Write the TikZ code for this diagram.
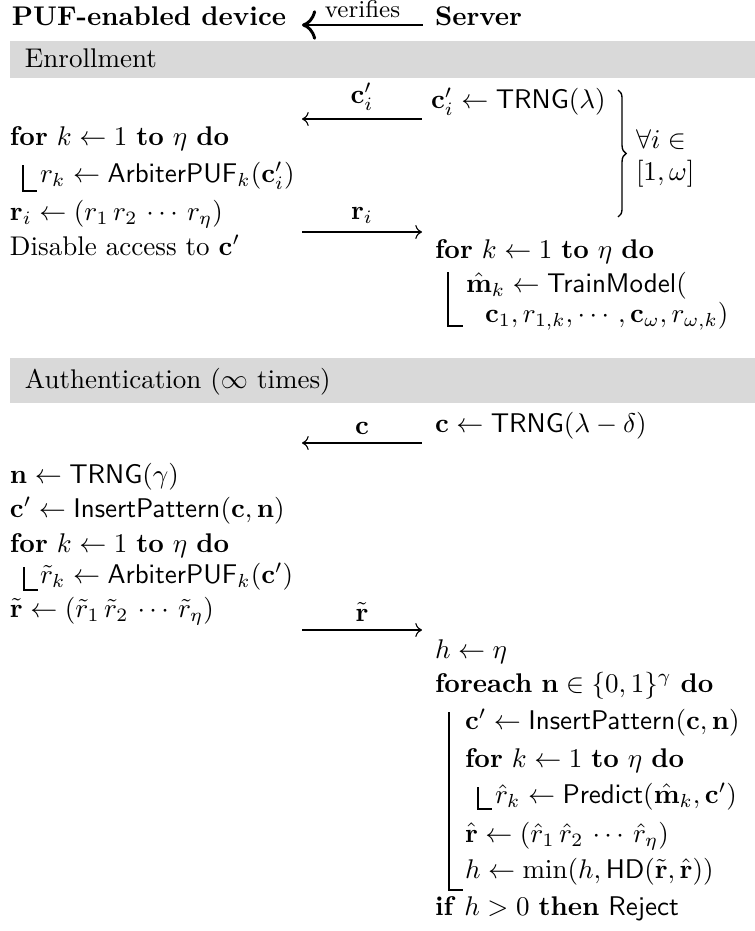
\documentclass[tikz,border=0pt]{standalone}
\usepackage{amsmath,amssymb}
\usetikzlibrary{arrows.meta,decorations.pathreplacing}

\newcommand{\kw}[1]{\textbf{#1}}
\newcommand{\vb}[1]{\mathbf{#1}}

\begin{document}
\begin{tikzpicture}[
  x=0.37pt, y=-0.37pt,
  txt/.style={anchor=base west, inner sep=0pt, outer sep=0pt},
  bar/.style={fill=black!15, draw=none},
  msg/.style={line width=0.4pt},
  lbl/.style={above, inner sep=3pt},
  loopline/.style={line width=0.4pt},
  brace/.style={decorate, decoration={brace, amplitude=3pt}, line width=0.5pt}
]
  \useasboundingbox (0,0) rectangle (755,931);

  % header
  \node[txt] (dev) at (12,25) {\kw{PUF-enabled device}};
  \node[txt] (srv) at (435,25) {\kw{Server}};
  \coordinate (hL) at (302,25);
  \coordinate (hR) at (423,25);
  \draw[{To[scale=1.3]}-, line width=1.1pt] (hL) -- node[above, inner sep=2pt, font=\small] (verif) {verifies} (hR);

  % enrollment
  \fill[bar] (10,41) rectangle (755,78);
  \node[txt] (enr) at (25,67) {Enrollment};

  \node[txt] (trng1) at (431,108) {$\vb{c}'_i \leftarrow \mathsf{TRNG}(\lambda)$};
  \coordinate (m1L) at (302,119);
  \coordinate (m1R) at (422,119);
  \draw[msg, <-] (m1L) -- node[lbl] (m1) {$\vb{c}'_i$} (m1R);

  \node[txt] (for1) at (10,145) {\kw{for} $k \leftarrow 1$ \kw{to} $\eta$ \kw{do}};
  \node[txt] (puf1) at (40,182) {$r_k \leftarrow \mathsf{ArbiterPUF}_k(\vb{c}'_i)$};
  \draw[loopline] (23,165) -- (23,191) -- (37,191);
  \node[txt] (resp1) at (10,220) {$\vb{r}_i \leftarrow (r_1\,r_2\,\cdots\,r_\eta)$};
  \coordinate (m2L) at (302,232);
  \coordinate (m2R) at (422,232);
  \draw[msg, ->] (m2L) -- node[lbl] (m2) {$\vb{r}_i$} (m2R);
  \node[txt] (dis) at (10,255) {Disable access to $\vb{c}'$};

  \draw[brace] (618,90) -- (618,217);
  \node[txt] (all1) at (636,148) {$\forall i \in$};
  \node[txt] (all2) at (636,180) {$[1,\omega]$};

  \node[txt] (for2) at (435,258) {\kw{for} $k \leftarrow 1$ \kw{to} $\eta$ \kw{do}};
  \node[txt] (train) at (466,292) {$\hat{\vb{m}}_k \leftarrow \mathsf{TrainModel}($};
  \node[txt] (args) at (485,322) {$\vb{c}_1, r_{1,k}, \cdots, \vb{c}_\omega, r_{\omega,k})$};
  \draw[loopline] (448,272) -- (448,326) -- (463,326);

  % authentication
  \fill[bar] (10,358) rectangle (755,403);
  \node[txt] (auth) at (25,388) {Authentication ($\infty$ times)};

  \node[txt] (trng2) at (435,432) {$\vb{c} \leftarrow \mathsf{TRNG}(\lambda - \delta)$};
  \coordinate (m3L) at (302,443);
  \coordinate (m3R) at (422,443);
  \draw[msg, <-] (m3L) -- node[lbl] (m3) {$\vb{c}$} (m3R);

  \node[txt] (nonce) at (10,483) {$\vb{n} \leftarrow \mathsf{TRNG}(\gamma)$};
  \node[txt] (ins1) at (10,517) {$\vb{c}' \leftarrow \mathsf{InsertPattern}(\vb{c}, \vb{n})$};
  \node[txt] (for3) at (10,552) {\kw{for} $k \leftarrow 1$ \kw{to} $\eta$ \kw{do}};
  \node[txt] (puf2) at (40,583) {$\tilde{r}_k \leftarrow \mathsf{ArbiterPUF}_k(\vb{c}')$};
  \draw[loopline] (24,567) -- (24,590) -- (38,590);
  \node[txt] (resp2) at (10,617) {$\tilde{\vb{r}} \leftarrow (\tilde{r}_1\,\tilde{r}_2\,\cdots\,\tilde{r}_\eta)$};
  \coordinate (m4L) at (302,630);
  \coordinate (m4R) at (422,630);
  \draw[msg, ->] (m4L) -- node[lbl] (m4) {$\tilde{\vb{r}}$} (m4R);

  \node[txt] (hinit) at (435,658) {$h \leftarrow \eta$};
  \node[txt] (each) at (435,692) {\kw{foreach} $\vb{n} \in \{0,1\}^\gamma$ \kw{do}};
  \node[txt] (ins2) at (465,729) {$\vb{c}' \leftarrow \mathsf{InsertPattern}(\vb{c}, \vb{n})$};
  \node[txt] (for4) at (465,767) {\kw{for} $k \leftarrow 1$ \kw{to} $\eta$ \kw{do}};
  \node[txt] (pred) at (495,803) {$\hat{r}_k \leftarrow \mathsf{Predict}(\hat{\vb{m}}_k, \vb{c}')$};
  \draw[loopline] (478,787) -- (478,809) -- (492,809);
  \node[txt] (resp3) at (465,842) {$\hat{\vb{r}} \leftarrow (\hat{r}_1\,\hat{r}_2\,\cdots\,\hat{r}_\eta)$};
  \node[txt] (hmin) at (465,878) {$h \leftarrow \min(h, \mathsf{HD}(\tilde{\vb{r}}, \hat{\vb{r}}))$};
  \draw[loopline] (449,712) -- (449,890) -- (463,890);
  \node[txt] (rej) at (435,915) {\kw{if} $h > 0$ \kw{then} \textsf{Reject}};
\end{tikzpicture}
\end{document}
